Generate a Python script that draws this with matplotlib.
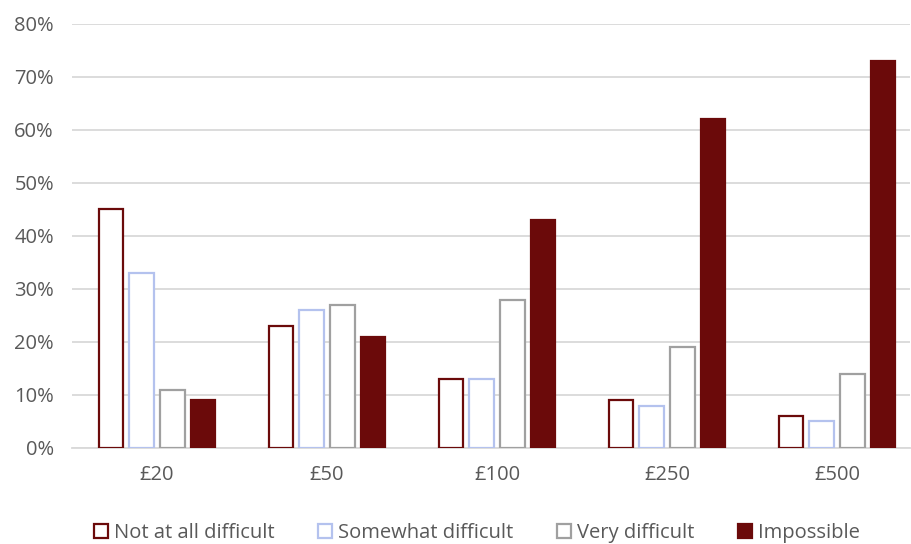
import matplotlib
matplotlib.use("Agg")
import matplotlib.pyplot as plt
import numpy as np
from matplotlib.ticker import FuncFormatter

categories = ["£20", "£50", "£100", "£250", "£500"]
series_names = ["Not at all difficult", "Somewhat difficult", "Very difficult", "Impossible"]
not_at_all = [45, 23, 13, 9, 6]
somewhat = [33, 26, 13, 8, 5]
very = [11, 27, 28, 19, 14]
impossible = [9, 21, 43, 62, 73]
y_ticks = [0, 10, 20, 30, 40, 50, 60, 70, 80]

plt.rcParams['font.family'] = ['Open Sans', 'DejaVu Sans']

fig = plt.figure(figsize=(9.11, 5.44), dpi=100)
ax = fig.add_axes([0.079, 0.1765, 0.92, 0.7794])

x = np.arange(len(categories))
w = 0.145
offsets = [-0.27, -0.09, 0.09, 0.27]
dark = "#6B0A0A"
styles = [
    dict(facecolor="white", edgecolor=dark),
    dict(facecolor="white", edgecolor="#B4C2EE"),
    dict(facecolor="white", edgecolor="#A0A0A0"),
    dict(facecolor=dark, edgecolor=dark),
]
data = [not_at_all, somewhat, very, impossible]
for vals, off, st, name in zip(data, offsets, styles, series_names):
    ax.bar(x + off, vals, width=w, linewidth=1.6, label=name, zorder=3, **st)

ax.set_ylim(0, 80)
ax.set_xlim(-0.5, 4.43)
ax.set_yticks(y_ticks)
ax.yaxis.set_major_formatter(FuncFormatter(lambda v, p: f"{int(v)}%"))
ax.set_xticks(x)
ax.set_xticklabels(categories)
ax.grid(axis="y", color="#D9D9D9", linewidth=1.3, zorder=0)
for s in ["top", "right", "left"]:
    ax.spines[s].set_visible(False)
ax.spines["bottom"].set_color("#D9D9D9")
ax.spines["bottom"].set_linewidth(1.3)
ax.tick_params(axis="both", length=0, colors="#595959", labelsize=14.5)
ax.tick_params(axis="x", pad=12)
ax.tick_params(axis="y", pad=13)

leg = ax.legend(loc="center", bbox_to_anchor=(0.483, -0.2), ncol=4, frameon=False,
                fontsize=14.5, handlelength=0.7, handleheight=0.7, handletextpad=0.3,
                columnspacing=2.15, labelcolor="#595959")

fig.savefig("out.png", dpi=100)
